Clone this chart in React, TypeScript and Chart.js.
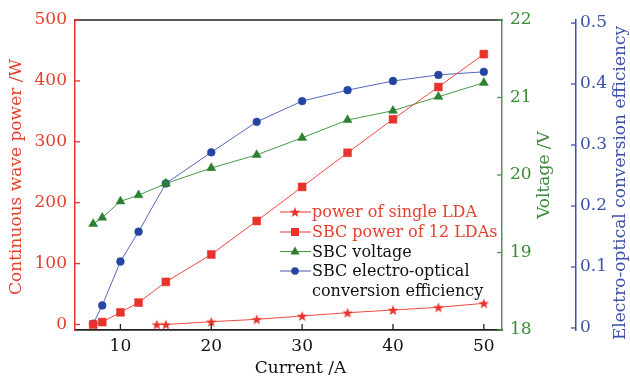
import React, { useEffect, useRef } from 'react';
import { Chart, registerables } from 'chart.js';

Chart.register(...registerables);

// ---- data ----
const currents = [7, 8, 10, 12, 15, 20, 25, 30, 35, 40, 45, 50];
const sbcPower = [0, 4, 20, 36, 70, 115, 170, 226, 282, 337, 390, 444];
const sbcVoltage = [19.37, 19.45, 19.66, 19.74, 19.89, 20.09, 20.26, 20.48, 20.71, 20.83, 21.01, 21.19];
const sbcEfficiency = [0.007, 0.037, 0.109, 0.158, 0.237, 0.288, 0.338, 0.372, 0.39, 0.405, 0.415, 0.42];
const singleCurrents = [14, 15, 20, 25, 30, 35, 40, 45, 50];
const singlePower = [0, 0, 4.6, 8.5, 14, 19.4, 23.8, 28.2, 34.8];

const xTicks = [10, 20, 30, 40, 50];
const powerTicks = [0, 100, 200, 300, 400, 500];
const voltageTicks = [18, 19, 20, 21, 22];
const effTicks = [0, 0.1, 0.2, 0.3, 0.4, 0.5];

const legendLines = [
  'power of single LDA',
  'SBC power of 12 LDAs',
  'SBC voltage',
  'SBC electro-optical',
  'conversion efficiency',
];

const xTitle = 'Current /A';
const powerTitle = 'Continuous wave power /W';
const voltageTitle = 'Voltage /V';
const effTitle = 'Electro-optical conversion efficiency';

// ---- styles ----
const FONT = "'DejaVu Serif', serif";
const RED = '#e8322c';
const RED_LINE = '#ec4a42';
const RED_TEXT = '#e5402f';
const GREEN = '#2b8032';
const GREEN_LINE = '#4a9a48';
const GREEN_TEXT = '#3c8a3a';
const BLUE = '#2446a0';
const BLUE_LINE = '#5567bb';
const BLUE_TEXT = '#3a52a6';

function makeStar(color: string, outer: number, inner: number) {
  const size = Math.ceil(outer * 2 + 2);
  const c = document.createElement('canvas');
  c.width = size;
  c.height = size;
  const g = c.getContext('2d')!;
  const cx = size / 2;
  const cy = size / 2 + 0.5;
  g.beginPath();
  for (let i = 0; i < 10; i++) {
    const r = i % 2 === 0 ? outer : inner;
    const a = -Math.PI / 2 + (i * Math.PI) / 5;
    const px = cx + r * Math.cos(a);
    const py = cy + r * Math.sin(a);
    if (i === 0) g.moveTo(px, py);
    else g.lineTo(px, py);
  }
  g.closePath();
  g.fillStyle = color;
  g.fill();
  return c;
}

export default function App() {
  const ref = useRef<HTMLCanvasElement | null>(null);

  useEffect(() => {
    if (!ref.current) return;
    const star = makeStar(RED, 5.6, 2.3);

    const decor = {
      id: 'decor',
      afterDraw(chart: any) {
        const ctx = chart.ctx as CanvasRenderingContext2D;
        const { left, right, top, bottom } = chart.chartArea;
        const sx = chart.scales.x;
        const sP = chart.scales.y;
        const sV = chart.scales.yV;
        const sE = chart.scales.yE;
        ctx.save();
        // top frame
        ctx.strokeStyle = '#222';
        ctx.lineWidth = 1.6;
        ctx.beginPath();
        ctx.moveTo(left - 0.5, top);
        ctx.lineTo(right + 0.5, top);
        ctx.stroke();

        // tick marks (inward)
        ctx.lineWidth = 1.3;
        ctx.strokeStyle = '#222';
        for (const v of xTicks) {
          const px = sx.getPixelForValue(v);
          ctx.beginPath();
          ctx.moveTo(px, bottom);
          ctx.lineTo(px, bottom - 6);
          ctx.stroke();
        }
        ctx.strokeStyle = RED;
        for (const v of powerTicks) {
          const py = sP.getPixelForValue(v);
          ctx.beginPath();
          ctx.moveTo(left, py);
          ctx.lineTo(left + 5, py);
          ctx.stroke();
        }
        ctx.strokeStyle = GREEN_LINE;
        for (const v of voltageTicks) {
          const py = sV.getPixelForValue(v);
          ctx.beginPath();
          ctx.moveTo(right, py);
          ctx.lineTo(right - 5, py);
          ctx.stroke();
        }
        ctx.strokeStyle = BLUE_TEXT;
        for (const v of effTicks) {
          const py = sE.getPixelForValue(v);
          ctx.beginPath();
          ctx.moveTo(sE.left, py);
          ctx.lineTo(sE.left - 5, py);
          ctx.stroke();
        }

        // axis titles
        ctx.font = `17px ${FONT}`;
        ctx.textAlign = 'center';
        ctx.textBaseline = 'middle';
        ctx.fillStyle = '#111';
        ctx.textBaseline = 'alphabetic';
        ctx.fillText(xTitle, (left + right) / 2 + 12, 373);
        ctx.textBaseline = 'middle';

        const vTitle = (text: string, x: number, y: number, color: string) => {
          ctx.save();
          ctx.translate(x, y);
          ctx.rotate(-Math.PI / 2);
          ctx.fillStyle = color;
          ctx.fillText(text, 0, 0);
          ctx.restore();
        };
        vTitle(powerTitle, 17, 177, RED_TEXT);
        vTitle(voltageTitle, 545, 175, GREEN_TEXT);
        vTitle(effTitle, 621, 183, BLUE_TEXT);

        // legend
        const lx0 = 280;
        const lx1 = 311;
        const mx = 295;
        const tx = 312;
        const rows = [212, 232, 251.5, 271, 290.5];
        const items = [
          { line: RED_LINE, color: RED, kind: 'star', text: RED_TEXT },
          { line: RED_LINE, color: RED, kind: 'rect', text: RED_TEXT },
          { line: GREEN_LINE, color: GREEN, kind: 'tri', text: '#111' },
          { line: BLUE_LINE, color: BLUE, kind: 'circle', text: '#111' },
        ];
        ctx.font = `16px ${FONT}`;
        ctx.textAlign = 'left';
        ctx.textBaseline = 'middle';
        items.forEach((it, i) => {
          const y = rows[i];
          ctx.strokeStyle = it.line;
          ctx.lineWidth = 1.1;
          ctx.beginPath();
          ctx.moveTo(lx0, y);
          ctx.lineTo(lx1, y);
          ctx.stroke();
          ctx.fillStyle = it.color;
          if (it.kind === 'star') {
            ctx.drawImage(star, mx - star.width / 2, y - star.height / 2);
          } else if (it.kind === 'rect') {
            ctx.fillRect(mx - 4, y - 4, 8, 8);
          } else if (it.kind === 'tri') {
            ctx.beginPath();
            ctx.moveTo(mx, y - 5);
            ctx.lineTo(mx + 4.6, y + 3);
            ctx.lineTo(mx - 4.6, y + 3);
            ctx.closePath();
            ctx.fill();
          } else {
            ctx.beginPath();
            ctx.arc(mx, y, 3.8, 0, Math.PI * 2);
            ctx.fill();
          }
          ctx.fillStyle = it.text;
          ctx.fillText(legendLines[i], tx, y + 1);
        });
        ctx.fillStyle = '#111';
        ctx.fillText(legendLines[4], tx, rows[4] + 1);

        ctx.restore();
      },
    };

    const pts = (xs: number[], ys: number[]) => xs.map((x, i) => ({ x, y: ys[i] }));

    const chart = new Chart(ref.current, {
      type: 'line',
      data: {
        datasets: [
          {
            label: legendLines[0],
            data: pts(singleCurrents, singlePower),
            yAxisID: 'y',
            borderColor: RED_LINE,
            borderWidth: 1,
            pointStyle: star as any,
            pointRadius: 5,
            backgroundColor: RED,
          },
          {
            label: legendLines[1],
            data: pts(currents, sbcPower),
            yAxisID: 'y',
            borderColor: RED_LINE,
            borderWidth: 1,
            pointStyle: 'rect',
            pointRadius: 5.6,
            pointBackgroundColor: RED,
            pointBorderColor: RED,
            pointBorderWidth: 0.5,
          },
          {
            label: 'SBC voltage',
            data: pts(currents, sbcVoltage),
            yAxisID: 'yV',
            borderColor: GREEN_LINE,
            borderWidth: 1,
            pointStyle: 'triangle',
            pointRadius: 5.2,
            pointBackgroundColor: GREEN,
            pointBorderColor: GREEN,
            pointBorderWidth: 0.5,
          },
          {
            label: 'SBC electro-optical conversion efficiency',
            data: pts(currents, sbcEfficiency),
            yAxisID: 'yE',
            borderColor: BLUE_LINE,
            borderWidth: 1,
            pointStyle: 'circle',
            pointRadius: 3.9,
            pointBackgroundColor: BLUE,
            pointBorderColor: BLUE,
            pointBorderWidth: 0.5,
          },
        ],
      },
      options: {
        responsive: false,
        animation: false,
        devicePixelRatio: 1,
        layout: { padding: { top: 20, left: 0, right: 0, bottom: 0 } },
        plugins: { legend: { display: false }, tooltip: { enabled: false } },
        elements: { line: { tension: 0 } },
        scales: {
          x: {
            type: 'linear',
            position: 'bottom',
            min: 5,
            max: 52,
            afterBuildTicks: (s: any) => {
              s.ticks = xTicks.map((v) => ({ value: v }));
            },
            afterFit: (s: any) => {
              s.height = 48;
            },
            grid: { display: false, drawTicks: false },
            border: { display: true, color: '#222', width: 1.8 },
            ticks: {
              autoSkip: false,
              maxRotation: 0,
              padding: 6,
              color: '#111',
              font: { family: FONT, size: 17 },
            },
          },
          y: {
            type: 'linear',
            position: 'left',
            min: -9,
            max: 500,
            afterBuildTicks: (s: any) => {
              s.ticks = powerTicks.map((v) => ({ value: v }));
            },
            afterFit: (s: any) => {
              s.width = 75;
            },
            grid: { display: false, drawTicks: false },
            border: { display: true, color: RED, width: 1.5 },
            ticks: {
              autoSkip: false,
              padding: 8,
              color: RED_TEXT,
              font: { family: FONT, size: 17 },
            },
          },
          yV: {
            type: 'linear',
            position: 'right',
            weight: 0,
            min: 18,
            max: 22,
            afterBuildTicks: (s: any) => {
              s.ticks = voltageTicks.map((v) => ({ value: v }));
            },
            afterFit: (s: any) => {
              s.width = 74;
            },
            grid: { display: false, drawTicks: false },
            border: { display: true, color: GREEN_LINE, width: 1.5 },
            ticks: {
              autoSkip: false,
              padding: 8,
              color: GREEN_TEXT,
              font: { family: FONT, size: 17 },
            },
          },
          yE: {
            type: 'linear',
            position: 'right',
            weight: 1,
            min: -0.0033,
            max: 0.505,
            afterBuildTicks: (s: any) => {
              s.ticks = effTicks.map((v) => ({ value: v }));
            },
            afterFit: (s: any) => {
              s.width = 54;
            },
            grid: { display: false, drawTicks: false },
            border: { display: true, color: BLUE_TEXT, width: 1.5 },
            ticks: {
              autoSkip: false,
              padding: 4,
              color: BLUE_TEXT,
              font: { family: FONT, size: 17 },
              callback: (v: any) => (Number(v) === 0 ? '0' : Number(v).toFixed(1)),
            },
          },
        },
      },
      plugins: [decor],
    } as any);

    return () => chart.destroy();
  }, []);

  return (
    <div style={{ position: 'fixed', left: 0, top: 0, width: 630, height: 378, background: '#fff' }}>
      <canvas ref={ref} width={630} height={378} style={{ display: 'block', width: 630, height: 378 }} />
    </div>
  );
}
